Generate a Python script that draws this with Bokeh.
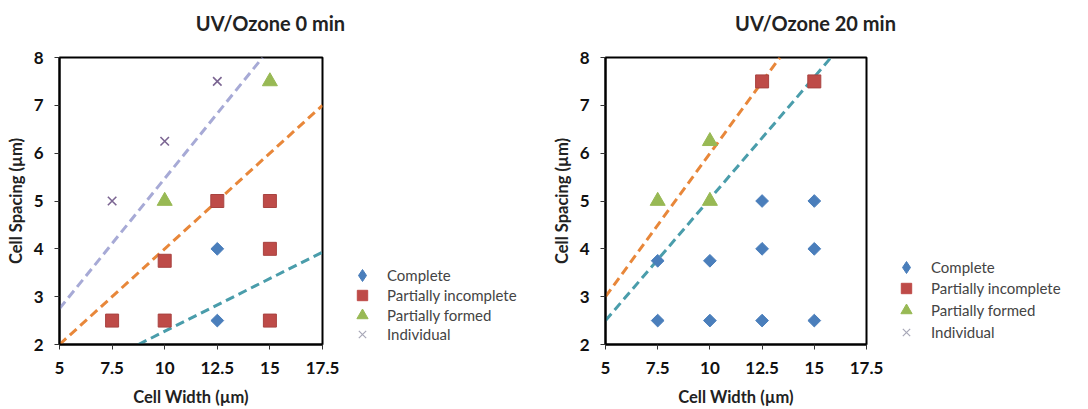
from bokeh.plotting import figure
from bokeh.models import Legend, LegendItem, Range1d, FixedTicker, Label
from bokeh.layouts import row, column
from bokeh.embed import file_html
from bokeh.resources import INLINE

x_ticks = [5, 7.5, 10, 12.5, 15, 17.5]
y_ticks = [2, 3, 4, 5, 6, 7, 8]
series_names = ["Complete", "Partially incomplete", "Partially formed", "Individual"]
titles = ["UV/Ozone 0 min", "UV/Ozone 20 min"]

# UV/Ozone 0 min
a_complete_x = [12.5, 12.5]
a_complete_y = [4, 2.5]
a_incomplete_x = [7.5, 10, 15, 10, 12.5, 15, 15]
a_incomplete_y = [2.5, 2.5, 2.5, 3.75, 5, 5, 4]
a_formed_x = [10, 15]
a_formed_y = [5, 7.5]
a_indiv_x = [7.5, 10, 12.5]
a_indiv_y = [5, 6.25, 7.5]
a_lav_x = [5, 14.65]
a_lav_y = [2.75, 8]
a_org_x = [5, 17.5]
a_org_y = [2, 7]
a_teal_x = [8.75, 17.5]
a_teal_y = [2, 3.93]

# UV/Ozone 20 min
b_complete_x = [7.5, 10, 12.5, 15, 12.5, 15, 7.5, 10, 12.5, 15]
b_complete_y = [3.75, 3.75, 4, 4, 5, 5, 2.5, 2.5, 2.5, 2.5]
b_incomplete_x = [12.5, 15]
b_incomplete_y = [7.5, 7.5]
b_formed_x = [7.5, 10, 10]
b_formed_y = [5, 5, 6.25]
b_indiv_x = []
b_indiv_y = []
b_org_x = [5, 13.35]
b_org_y = [3, 8]
b_teal_x = [5, 15.8]
b_teal_y = [2.5, 8]

C_BLUE = "#4a7ebb"
C_RED = "#be4b48"
C_GREEN = "#98b954"
C_PURPLE = "#7b6592"
C_LAV = "#a7aad6"
C_ORG = "#e8873a"
C_TEAL = "#4a9dab"
FONT = "Lato"
NAN = float("nan")


def blank(width, height):
    q = figure(width=width, height=height, min_border=0, x_range=Range1d(0, 1), y_range=Range1d(0, 1),
               output_backend="svg", toolbar_location=None, tools="")
    q.axis.visible = False
    q.xgrid.visible = False
    q.ygrid.visible = False
    q.outline_line_color = None
    q.background_fill_color = "white"
    q.border_fill_color = "white"
    return q


def make_chart(left_border, frame_w, data, lines):
    p = figure(width=left_border + frame_w + 22, height=365,
               min_border_left=left_border, min_border_top=13,
               min_border_right=22, min_border_bottom=65,
               x_range=Range1d(5, 17.5), y_range=Range1d(2, 8),
               output_backend="svg", toolbar_location=None, tools="")
    p.xgrid.visible = False
    p.ygrid.visible = False
    p.outline_line_color = "black"
    p.outline_line_width = 2
    p.background_fill_color = "white"
    p.border_fill_color = "white"
    p.xaxis.ticker = FixedTicker(ticks=x_ticks)
    p.yaxis.ticker = FixedTicker(ticks=y_ticks)
    for ax in (p.xaxis[0], p.yaxis[0]):
        ax.axis_line_color = "black"
        ax.axis_line_width = 2
        ax.major_tick_line_color = "#333333"
        ax.major_tick_out = 5
        ax.major_tick_in = 0
        ax.minor_tick_line_color = None
        ax.major_label_text_font = FONT
        ax.major_label_text_font_size = "17px"
        ax.major_label_text_font_style = "bold"
        ax.major_label_text_color = "#111111"
        ax.axis_label_text_font = FONT
        ax.axis_label_text_font_size = "16.5px"
        ax.axis_label_text_font_style = "bold"
        ax.axis_label_text_color = "#222222"
    p.xaxis.axis_label = "Cell Width (µm)"
    p.yaxis.axis_label = "Cell Spacing (µm)"
    p.xaxis.major_label_standoff = 12
    p.yaxis.major_label_standoff = 11
    p.xaxis.axis_label_standoff = 10
    p.yaxis.axis_label_standoff = 5

    for (lx, ly, col) in lines:
        p.line(lx, ly, line_color=col, line_width=3, line_dash="9 5")

    (cx, cy), (ix, iy), (fx, fy), (vx, vy) = data
    p.scatter(cx, cy, marker="square", angle=0.785398, size=9, fill_color=C_BLUE, line_color=C_BLUE)
    p.scatter(ix, iy, marker="square", size=13, fill_color=C_RED, line_color="#a84340")
    p.scatter(fx, fy, marker="triangle", size=15, fill_color=C_GREEN, line_color=C_GREEN)
    if vx:
        p.scatter(vx, vy, marker="x", size=12, line_color=C_PURPLE, line_width=1.6)
    return p


def make_legend(data, ys):
    q = blank(200, 365)
    (cx, cy), (ix, iy), (fx, fy), (vx, vy) = data

    def hidden(xs, ys_, **kw):
        if not xs:
            xs, ys_ = [NAN], [NAN]
        r = q.scatter(xs, ys_, **kw)
        r.visible = False
        return r
    rs = [hidden(cx, cy, marker="diamond", fill_color=C_BLUE, line_color=C_BLUE),
          hidden(ix, iy, marker="square", fill_color=C_RED, line_color=C_RED),
          hidden(fx, fy, marker="triangle", fill_color=C_GREEN, line_color=C_GREEN),
          hidden(vx, vy, marker="x", line_color="#a8a8b8", line_width=1.2)]
    sizes = [(30, 30), (26, 26), (28, 28), (26, 26)]
    for name, r, y, (gw, gh) in zip(series_names, rs, ys, sizes):
        leg = Legend(items=[LegendItem(label=name, renderers=[r])], location=(18 - gw // 2, y - gh // 2),
                     padding=0, margin=0, spacing=0,
                     glyph_width=gw, glyph_height=gh, label_height=gh, label_standoff=25 - gw // 2,
                     label_text_font=FONT, label_text_font_size="15px",
                     label_text_color="#444444", border_line_color=None,
                     background_fill_alpha=0, inactive_fill_alpha=0)
        q.add_layout(leg, "center")
    return q


data_a = [(a_complete_x, a_complete_y), (a_incomplete_x, a_incomplete_y),
          (a_formed_x, a_formed_y), (a_indiv_x, a_indiv_y)]
data_b = [(b_complete_x, b_complete_y), (b_incomplete_x, b_incomplete_y),
          (b_formed_x, b_formed_y), (b_indiv_x, b_indiv_y)]

p1 = make_chart(59, 263, data_a,
                [(a_lav_x, a_lav_y, C_LAV), (a_org_x, a_org_y, C_ORG), (a_teal_x, a_teal_y, C_TEAL)])
# legend row centres, measured up from the plot frame's bottom edge
q1 = make_legend(data_a, [69, 49, 29, 10])
p2 = make_chart(61, 261, data_b, [(b_org_x, b_org_y, C_ORG), (b_teal_x, b_teal_y, C_TEAL)])
q2 = make_legend(data_b, [77, 56, 34, 12])

strip = blank(1088, 44)
for t, cxp in zip(titles, [270, 815]):
    strip.add_layout(Label(x=cxp, y=22, x_units="screen", y_units="screen", text=t,
                           text_align="center", text_baseline="middle",
                           text_font=FONT, text_font_size="20px", text_font_style="bold",
                           text_color="#222222"))

layout = column(strip, row(p1, q1, p2, q2, spacing=0), spacing=0)
open("out.html", "w").write(file_html(layout, INLINE))
